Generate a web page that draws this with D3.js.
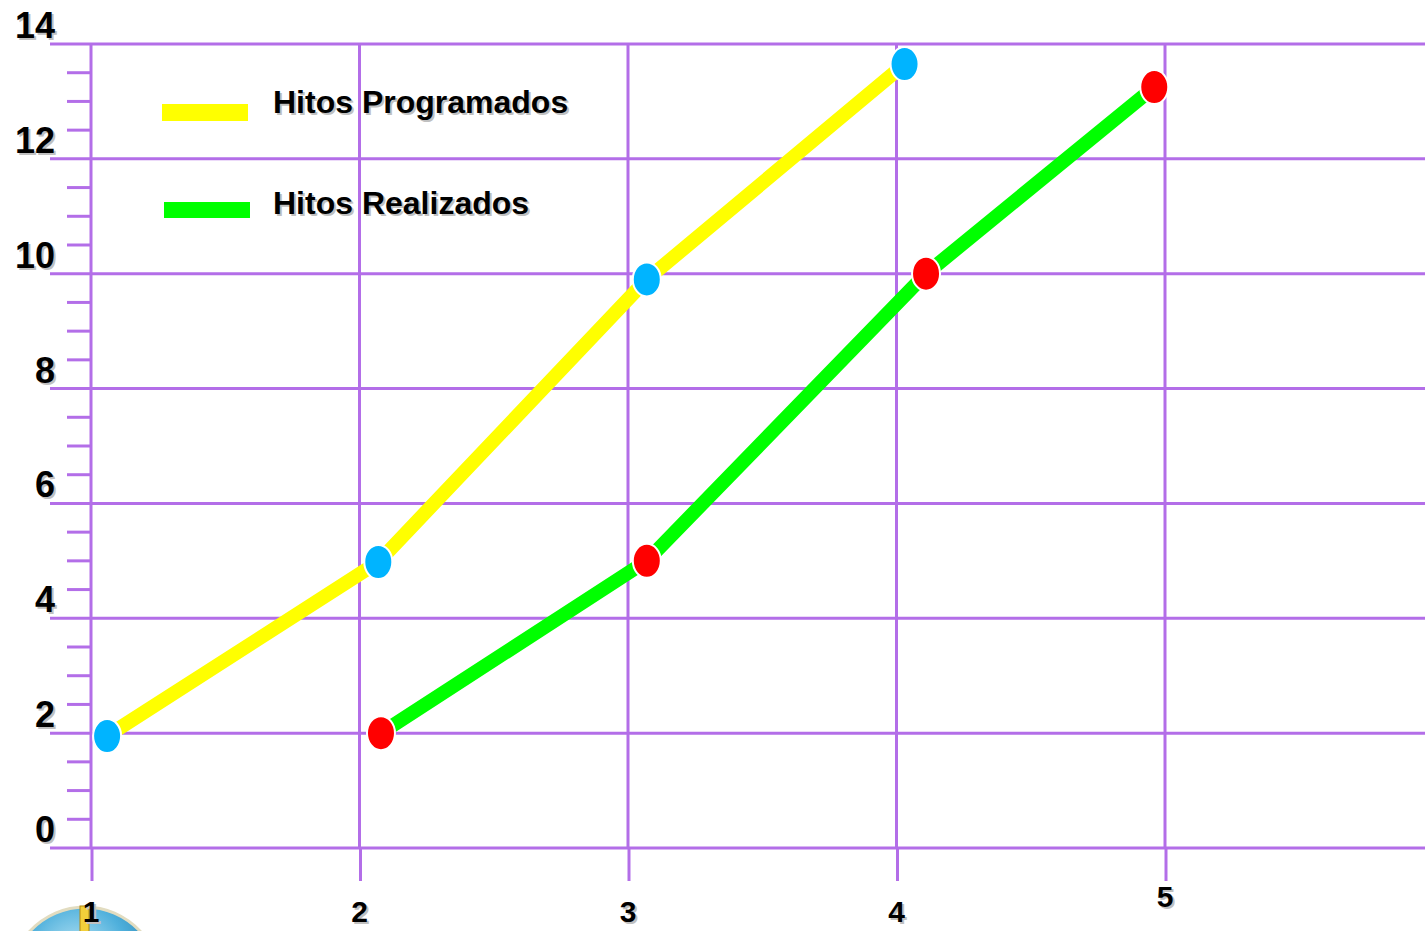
<!DOCTYPE html>
<html>
<head>
<meta charset="utf-8">
<script src="https://cdn.jsdelivr.net/npm/d3@7/dist/d3.min.js"></script>
<style>
  html, body { margin: 0; padding: 0; background: #ffffff; overflow: hidden; }
  svg { display: block; }
  text { font-family: "Liberation Sans", Arial, sans-serif; font-weight: bold; }
</style>
</head>
<body>
<svg id="chart" width="1425" height="931"></svg>
<script>
// Milestone progress: planned vs achieved
const seriesNames = ["Hitos Programados", "Hitos Realizados"];
const programadosX = [1.06, 2.07, 3.07, 4.03];
const programadosY = [1.95, 4.98, 9.9, 13.65];
const realizadosX = [2.08, 3.07, 4.11, 4.96];
const realizadosY = [2.0, 5.0, 10.0, 13.25];
const xTickLabels = ["1", "2", "3", "4", "5"];
const yTickLabels = ["0", "2", "4", "6", "8", "10", "12", "14"];

const gridColor = "#b36ee8";
const svg = d3.select("#chart");

const x = d3.scaleLinear().domain([1, 5]).range([91, 1165]);
const y = d3.scaleLinear().domain([0, 14]).range([848, 44]);

// decorative globe emblem peeking in at the bottom-left corner
const defs = svg.append("defs");
const grad = defs.append("radialGradient").attr("id", "globe").attr("cx", "45%").attr("cy", "30%").attr("r", "65%");
grad.append("stop").attr("offset", "0%").attr("stop-color", "#c8ecf8");
grad.append("stop").attr("offset", "50%").attr("stop-color", "#4fb0dc");
grad.append("stop").attr("offset", "100%").attr("stop-color", "#1f6f9e");
const globe = svg.append("g");
globe.append("ellipse").attr("cx", 85).attr("cy", 995).attr("rx", 80).attr("ry", 88)
  .attr("fill", "url(#globe)").attr("stroke", "#e2dcc0").attr("stroke-width", 3);
globe.append("rect").attr("x", 80).attr("y", 906).attr("width", 9).attr("height", 30)
  .attr("fill", "#f2cf3a").attr("stroke", "#b38a12").attr("stroke-width", 1);

// grid: horizontal major lines
const yMajor = yTickLabels.map(Number);
svg.append("g").selectAll("line").data(yMajor).join("line")
  .attr("x1", 50).attr("x2", 1425)
  .attr("y1", d => y(d)).attr("y2", d => y(d))
  .attr("stroke", gridColor).attr("stroke-width", 3);

// minor ticks on the left
const yMinor = d3.range(0.5, 14, 0.5).filter(v => v % 2 !== 0);
svg.append("g").selectAll("line").data(yMinor).join("line")
  .attr("x1", 67).attr("x2", 91)
  .attr("y1", d => y(d)).attr("y2", d => y(d))
  .attr("stroke", gridColor).attr("stroke-width", 3);

// vertical lines and ticks below the base line
const xMajor = xTickLabels.map(Number);
svg.append("g").selectAll("line").data(xMajor).join("line")
  .attr("x1", d => x(d)).attr("x2", d => x(d))
  .attr("y1", y(14)).attr("y2", y(0))
  .attr("stroke", gridColor).attr("stroke-width", 3);
svg.append("g").selectAll("line").data(xMajor).join("line")
  .attr("x1", d => x(d) + 1).attr("x2", d => x(d) + 1)
  .attr("y1", y(0)).attr("y2", y(0) + 33)
  .attr("stroke", gridColor).attr("stroke-width", 3);

// text with a soft grey drop shadow
function shadowText(g, tx, ty, str, size, anchor) {
  g.append("text").attr("x", tx + 2).attr("y", ty + 2).attr("font-size", size)
    .attr("text-anchor", anchor).attr("fill", "#c0c0c0").text(str);
  g.append("text").attr("x", tx).attr("y", ty).attr("font-size", size)
    .attr("text-anchor", anchor).attr("fill", "#000").text(str);
}

const labels = svg.append("g");
yTickLabels.forEach(t => shadowText(labels, 55, y(+t) - 6, t, 36, "end"));
xTickLabels.forEach((t, i) => {
  const base = i === xTickLabels.length - 1 ? 907 : 922;
  shadowText(labels, x(+t), base, t, 30, "middle");
});

// series lines
const line = d3.line().x(d => x(d[0])).y(d => y(d[1]));
const progPts = programadosX.map((v, i) => [v, programadosY[i]]);
const realPts = realizadosX.map((v, i) => [v, realizadosY[i]]);

svg.append("path").datum(progPts).attr("d", line)
  .attr("fill", "none").attr("stroke", "#ffff00").attr("stroke-width", 14);
svg.append("path").datum(realPts).attr("d", line)
  .attr("fill", "none").attr("stroke", "#00ff00").attr("stroke-width", 14);

// markers
svg.append("g").selectAll("ellipse").data(progPts).join("ellipse")
  .attr("cx", d => x(d[0])).attr("cy", d => y(d[1]))
  .attr("rx", 14).attr("ry", 17)
  .attr("fill", "#00b4ff").attr("stroke", "#ffffff").attr("stroke-width", 2);
svg.append("g").selectAll("ellipse").data(realPts).join("ellipse")
  .attr("cx", d => x(d[0])).attr("cy", d => y(d[1]))
  .attr("rx", 14).attr("ry", 17)
  .attr("fill", "#ff0000").attr("stroke", "#ffffff").attr("stroke-width", 2);

// legend
const legend = svg.append("g");
legend.append("rect").attr("x", 162).attr("y", 104).attr("width", 86).attr("height", 17).attr("fill", "#ffff00");
legend.append("rect").attr("x", 164).attr("y", 202).attr("width", 86).attr("height", 16).attr("fill", "#00ff00");
shadowText(legend, 273, 113, seriesNames[0], 32, "start");
shadowText(legend, 273, 214, seriesNames[1], 32, "start");
</script>
</body>
</html>
